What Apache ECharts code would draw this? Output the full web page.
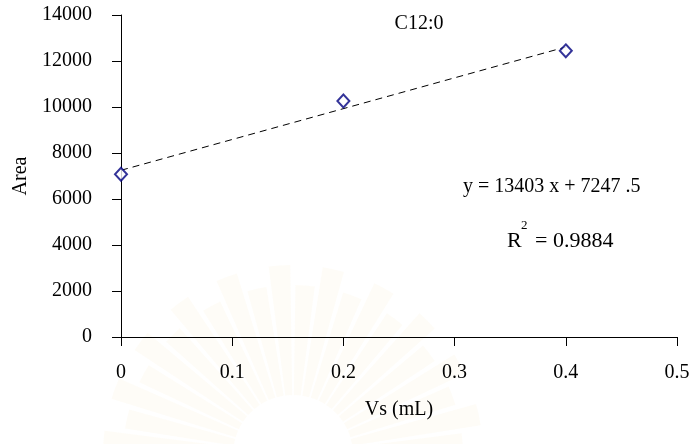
<!DOCTYPE html>
<html>
<head>
<meta charset="utf-8">
<script src="https://cdn.jsdelivr.net/npm/echarts@6/dist/echarts.min.js"></script>
<style>
  html, body { margin: 0; padding: 0; background: #fff; }
  #chart { width: 694px; height: 444px; }
</style>
</head>
<body>
<div id="chart"></div>
<script>
// Standard-addition calibration for C12:0
const volumes = [0, 0.2, 0.4];          // Vs (mL)
const areas = [7080, 10264, 12441];     // peak area
const slope = 13403;
const intercept = 7247.5;
const rSquared = 0.9884;
const xTicks = [0, 0.1, 0.2, 0.3, 0.4, 0.5];
const yTicks = [0, 2000, 4000, 6000, 8000, 10000, 12000, 14000];

const FONT = '"Liberation Serif", "Times New Roman", serif';

const points = volumes.map((v, i) => [v, areas[i]]);
const fitStart = volumes[0];
const fitEnd = volumes[volumes.length - 1];
const fitLine = [
  [fitStart, slope * fitStart + intercept],
  [fitEnd, slope * fitEnd + intercept]
];

// faint seal in the page background: a fan of pale rays
const sealRays = [];
const rayCount = 22;
for (let i = 0; i < rayCount; i++) {
  const a = Math.PI + (i + 0.5) * Math.PI / rayCount;
  const half = Math.PI / rayCount * 0.4;
  sealRays.push({
    type: 'sector',
    silent: true,
    z: -10,
    shape: { cx: 293, cy: 455, r0: 60, r: 190 - (i % 2) * 20, startAngle: a - half, endAngle: a + half },
    style: { fill: 'rgba(240, 215, 150, 0.08)' }
  });
}

const chart = echarts.init(document.getElementById('chart'), null, { renderer: 'canvas' });

chart.setOption({
  animation: false,
  backgroundColor: '#ffffff',
  title: {
    text: 'C12:0',
    left: 414,
    top: 9,
    textAlign: 'center',
    textStyle: { fontFamily: FONT, fontSize: 20, fontWeight: 'normal', color: '#000' }
  },
  grid: { left: 121, right: 17, top: 15, bottom: 107, containLabel: false },
  xAxis: {
    type: 'value',
    min: xTicks[0],
    max: xTicks[xTicks.length - 1],
    interval: 0.1,
    name: 'Vs (mL)',
    nameLocation: 'middle',
    nameGap: 63,
    nameTextStyle: { fontFamily: FONT, fontSize: 20, color: '#000' },
    axisLine: { onZero: false, lineStyle: { color: '#000', width: 1 } },
    axisTick: { show: true, inside: false, length: 9, lineStyle: { color: '#000' } },
    axisLabel: {
      margin: 26,
      fontFamily: FONT, fontSize: 20, color: '#000',
      formatter: v => String(Number(v.toFixed(1)))
    },
    splitLine: { show: false }
  },
  yAxis: {
    type: 'value',
    min: yTicks[0],
    max: yTicks[yTicks.length - 1],
    interval: 2000,
    name: 'Area',
    nameLocation: 'middle',
    nameGap: 85,
    nameRotate: 90,
    nameTextStyle: { fontFamily: FONT, fontSize: 20, color: '#000' },
    axisLine: { show: true, lineStyle: { color: '#000', width: 1 } },
    axisTick: { show: true, inside: false, length: 9, lineStyle: { color: '#000' } },
    axisLabel: { margin: 29, fontFamily: FONT, fontSize: 20, color: '#000', formatter: v => String(v) },
    splitLine: { show: false }
  },
  series: [
    {
      name: 'Linear fit',
      type: 'line',
      data: fitLine,
      symbol: 'none',
      lineStyle: { color: '#000', width: 1, type: [7, 5] },
      z: 2
    },
    {
      name: 'C12:0',
      type: 'scatter',
      data: points,
      symbol: 'diamond',
      symbolSize: [12, 13],
      itemStyle: { color: '#ffffff', borderColor: '#000080', borderWidth: 2 },
      z: 3
    }
  ],
  graphic: sealRays.concat([
    {
      type: 'text',
      x: 463,
      y: 187,
      style: {
        text: 'y = ' + slope + ' x + 7247 .5',
        font: '20px ' + FONT,
        fill: '#000',
        verticalAlign: 'middle'
      }
    },
    {
      type: 'text',
      x: 507,
      y: 241,
      style: { text: 'R', font: '22px ' + FONT, fill: '#000', verticalAlign: 'middle' }
    },
    {
      type: 'text',
      x: 521,
      y: 226,
      style: { text: '2', font: '13px ' + FONT, fill: '#000', verticalAlign: 'middle' }
    },
    {
      type: 'text',
      x: 535,
      y: 241,
      style: { text: '= ' + rSquared, font: '22px ' + FONT, fill: '#000', verticalAlign: 'middle' }
    }
  ])
});
</script>
</body>
</html>
